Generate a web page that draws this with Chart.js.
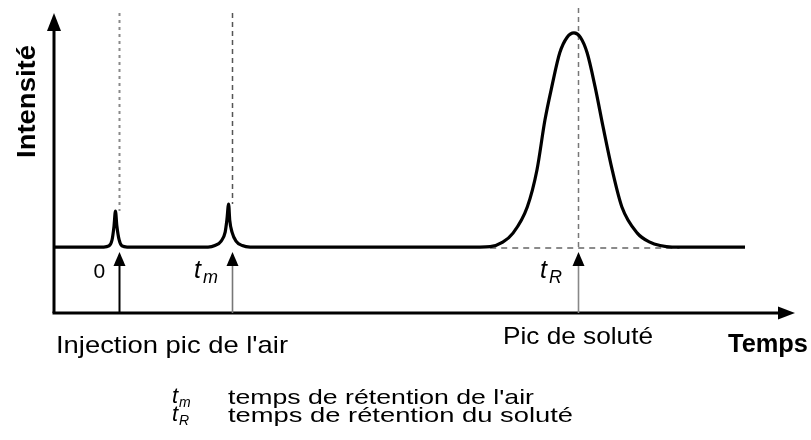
<!DOCTYPE html>
<html>
<head>
<meta charset="utf-8">
<script src="https://cdn.jsdelivr.net/npm/chart.js@4"></script>
<style>
html,body{margin:0;padding:0;background:#fff;}
#wrap{position:relative;width:811px;height:440px;}
</style>
</head>
<body>
<div id="wrap"><canvas id="c" width="811" height="440"></canvas></div>
<script>
// Time axis (min) and intensity (% of solute peak)
const time = [-1.12, -0.25, -0.16, -0.105, -0.07, -0.045, -0.02, 0.02, 0.07, 0.16,
  1.58, 1.70, 1.81, 1.88, 1.91, 1.94, 1.96, 2.00, 2.07, 2.18, 2.32,
  6.35, 6.53, 6.75, 6.93, 7.18, 7.35, 7.49, 7.61, 7.75, 7.88, 8.00, 8.11, 8.23, 8.37, 8.51, 8.67, 8.84, 9.11, 9.33, 9.51, 9.72,
  11.0];
const intensity = [0, 0, 0.5, 3.3, 9.8, 16.8, 9.8, 3.3, 0.5, 0,
  0, 0.7, 2.8, 7, 12.6, 20.1, 12.6, 7, 2.8, 0.7, 0,
  0, 0.2, 2.3, 6.5, 18.7, 36, 59.3, 74.8, 90.7, 98, 100, 98, 90.7, 74.8, 56.1, 36, 18.7, 6.5, 2.3, 0.7, 0,
  0];
// marker times: injection, air peak (t_m), solute peak (t_R)
const markerTimes = [0.02, 2.0, 8.07];
const markerLabels = ['0', 't|m', 't|R'];
const soluteBaseRange = [6.53, 9.85];
const xRange = [-1.123, 11.877];
const yRange = [-30.8, 109.3];
const axisTitles = {x: 'Temps', y: 'Intensité'};
const peakNames = ['Injection pic de l\'air', 'Pic de soluté'];
const legendRows = [['m', 'temps de rétention de l\'air'], ['R', 'temps de rétention du soluté']];

const points = time.map((t, i) => ({x: t, y: intensity[i]}));

function arrowHead(ctx, x, y, dir, len, w) {
  ctx.beginPath();
  if (dir === 'up') { ctx.moveTo(x, y); ctx.lineTo(x - w/2, y + len); ctx.lineTo(x + w/2, y + len); }
  else { ctx.moveTo(x, y); ctx.lineTo(x - len, y - w/2); ctx.lineTo(x - len, y + w/2); }
  ctx.closePath(); ctx.fill();
}
function fitText(ctx, txt, x, y, width) {
  const m = ctx.measureText(txt).width;
  ctx.save(); ctx.translate(x, y); ctx.scale(width / m, 1); ctx.fillText(txt, 0, 0); ctx.restore();
}
const SANS = '"Liberation Sans", Arial, Helvetica, sans-serif';

const deco = {
  id: 'deco',
  beforeDatasetsDraw(chart) {
    const ctx = chart.ctx, xs = chart.scales.x, ys = chart.scales.y;
    const y0 = ys.getPixelForValue(0);
    ctx.save();
    // vertical dashed guides
    const tops = [16.8, 20.1, 0];
    const cols = ['#8a8a8a', '#555', '#777'];
    markerTimes.forEach((t, i) => {
      const px = Math.round(xs.getPixelForValue(t)) + 0.5;
      ctx.strokeStyle = cols[i]; ctx.lineWidth = i === 0 ? 2 : 1.5;
      ctx.setLineDash(i === 0 ? [3, 4] : [5, 4]);
      ctx.beginPath(); ctx.moveTo(px, i === 2 ? 8 : 13); ctx.lineTo(px, ys.getPixelForValue(tops[i])); ctx.stroke();
    });
    // dashed baseline under the solute peak
    ctx.strokeStyle = '#666'; ctx.lineWidth = 1.5; ctx.setLineDash([6, 5]);
    ctx.beginPath();
    ctx.moveTo(xs.getPixelForValue(soluteBaseRange[0]), y0 + 1);
    ctx.lineTo(xs.getPixelForValue(soluteBaseRange[1]), y0 + 1);
    ctx.stroke();
    ctx.setLineDash([]);
    ctx.restore();
  },
  afterDatasetsDraw(chart) {
    const ctx = chart.ctx, xs = chart.scales.x, ys = chart.scales.y, a = chart.chartArea;
    ctx.save();
    ctx.fillStyle = '#000'; ctx.strokeStyle = '#000';
    // axes
    ctx.lineWidth = 3;
    ctx.beginPath(); ctx.moveTo(a.left, a.bottom); ctx.lineTo(a.left, a.top + 10); ctx.stroke();
    arrowHead(ctx, a.left, a.top, 'up', 18, 14);
    ctx.beginPath(); ctx.moveTo(a.left - 1.5, a.bottom); ctx.lineTo(a.right - 10, a.bottom); ctx.stroke();
    arrowHead(ctx, a.right, a.bottom, 'right', 17, 13);
    // arrows from axis up to marker times
    const shaft = [['#000', 2], ['#777', 1.6], ['#888', 1.6]];
    const tip = ys.getPixelForValue(0) + 5;
    markerTimes.forEach((t, i) => {
      const px = Math.round(xs.getPixelForValue(t)) + 0.5;
      ctx.strokeStyle = shaft[i][0]; ctx.lineWidth = shaft[i][1];
      ctx.beginPath(); ctx.moveTo(px, a.bottom); ctx.lineTo(px, tip + 10); ctx.stroke();
      ctx.fillStyle = '#000';
      arrowHead(ctx, px, tip, 'up', 14, 12);
    });
    // marker labels
    ctx.fillStyle = '#000'; ctx.textBaseline = 'alphabetic';
    markerLabels.forEach((lab, i) => {
      const px = xs.getPixelForValue(markerTimes[i]);
      if (!lab.includes('|')) {
        ctx.font = '21px ' + SANS; ctx.textAlign = 'right';
        ctx.fillText(lab, px - 14, 278);
      } else {
        const [m, s] = lab.split('|');
        ctx.textAlign = 'left';
        ctx.font = 'italic 25px ' + SANS; ctx.fillText(m, px - 38, 278);
        ctx.font = 'italic 18px ' + SANS; ctx.fillText(s, px - 29, 283);
      }
    });
    // peak names and axis titles
    ctx.textAlign = 'left';
    ctx.font = '24px ' + SANS;
    fitText(ctx, peakNames[0], 56, 353, 232);
    fitText(ctx, peakNames[1], 503, 344, 150);
    ctx.font = 'bold 25px ' + SANS;
    fitText(ctx, axisTitles.x, 728, 352, 80);
    ctx.save(); ctx.translate(35, 158); ctx.rotate(-Math.PI / 2);
    ctx.font = 'bold 26px ' + SANS; fitText(ctx, axisTitles.y, 0, 0, 113);
    ctx.restore();
    // legend
    legendRows.forEach((r, i) => {
      const by = 404 + i * 18;
      ctx.font = 'italic 22px ' + SANS; ctx.fillText('t', 172, by - 1);
      ctx.font = 'italic 14px ' + SANS; ctx.fillText(r[0], 179, by + 3);
      ctx.font = '21px ' + SANS; fitText(ctx, r[1], 228, by, i === 0 ? 306 : 345);
    });
    ctx.restore();
  }
};

new Chart(document.getElementById('c'), {
  type: 'line',
  data: { datasets: [{ data: points, borderColor: '#000', borderWidth: 3.2, pointRadius: 0,
    cubicInterpolationMode: 'monotone', fill: false }] },
  options: {
    responsive: false, animation: false, parsing: true,
    layout: { padding: { left: 54, right: 16, top: 13, bottom: 127 } },
    plugins: { legend: { display: false }, tooltip: { enabled: false } },
    scales: {
      x: { type: 'linear', min: xRange[0], max: xRange[1], display: false },
      y: { type: 'linear', min: yRange[0], max: yRange[1], display: false }
    }
  },
  plugins: [deco]
});
</script>
</body>
</html>
